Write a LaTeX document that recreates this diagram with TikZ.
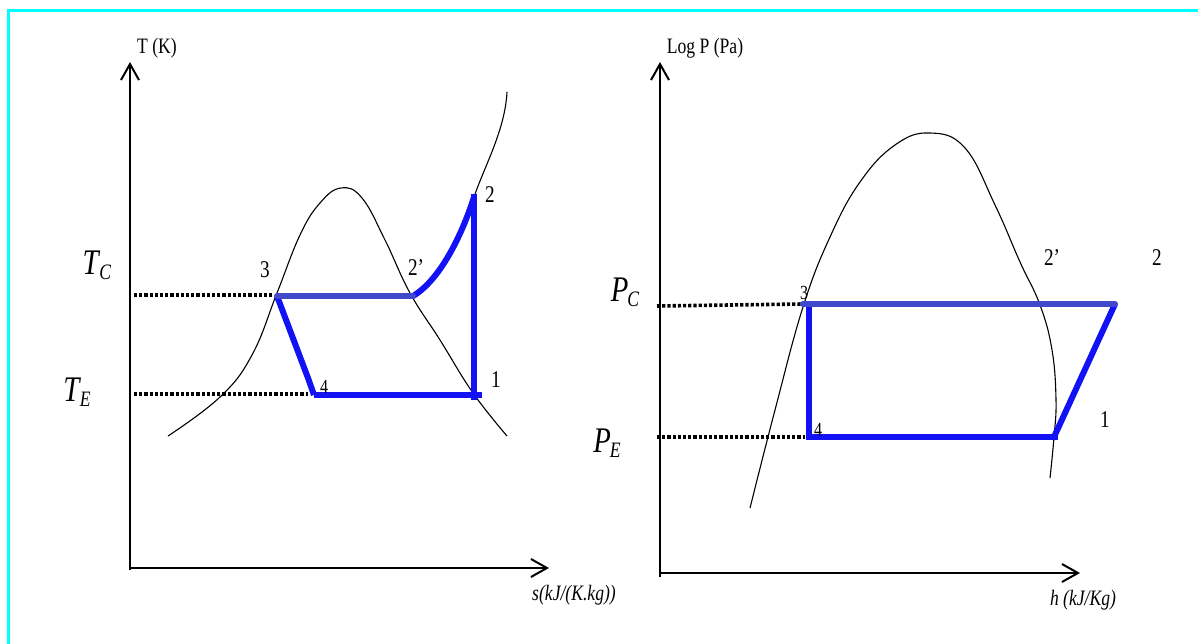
\documentclass[tikz,border=0pt]{standalone}
\usepackage{fontspec}
\setmainfont[FakeStretch=0.8]{Liberation Serif}
\usetikzlibrary{arrows.meta}
\definecolor{cycA}{RGB}{64,72,204}
\definecolor{cycB}{RGB}{18,18,245}
\definecolor{frameC}{RGB}{0,255,255}
\newcommand{\bigsub}[2]{\textit{#1}\kern-1pt\raisebox{-5pt}{\fontsize{22}{22}\selectfont\textit{#2}}}
\tikzset{
  axisline/.style={line width=2pt,-{Straight Barb[length=16pt,width=18pt,line width=2pt]}},
  dome/.style={line width=1.1pt,black},
  cycthick/.style={line width=6pt,cycB},
  cyctop/.style={line width=6pt,cycA},
  dotline/.style={line width=3.6pt,dash pattern=on 3.2pt off 2pt},
  axlab/.style={font=\fontsize{22}{24}\selectfont,inner sep=0pt},
  ptlab/.style={font=\fontsize{24}{26}\selectfont,inner sep=0pt},
  ptlabs/.style={font=\fontsize{20}{22}\selectfont,inner sep=0pt},
  biglab/.style={font=\fontsize{36}{38}\selectfont,inner sep=0pt},
}
\begin{document}
\begin{tikzpicture}[x=1pt,y=-1pt]
\useasboundingbox (0,0) rectangle (1198,644);
% frame
\draw[frameC,line width=3pt] (8,644) -- (8,10.5) -- (1198,10.5);

% ===== Left: T-s diagram =====
\coordinate (Lo) at (130,568);
\coordinate (Ltop) at (130,62);
\coordinate (Lright) at (549,568);
\draw[axisline] (130,570) -- (Ltop);
\draw[axisline] (Lo) -- (Lright);
\node[axlab] (lTK) at (157,48) {T (K)};
\node[axlab] (lsx) at (574,595) {\textit{s(kJ/(K.kg))}};

% saturation dome
\draw[dome] plot[smooth,tension=0.7] coordinates {
 (168,436) (220,397) (252,355) (277,293) (300,235) (320,203) (341,188)
 (362,198) (385,240) (410,293) (440,340) (473,393) (507,436)};
% superheated isobar above 2
\coordinate (L2) at (474,197);
\coordinate (Ltopcurve) at (507,92);
\draw[dome] (L2) .. controls (485,165) and (505,130) .. (Ltopcurve);

% cycle points
\coordinate (L3) at (277,296);
\coordinate (L2p) at (413,296);
\coordinate (L1) at (474,395);
\coordinate (L4) at (314,395);
\coordinate (L4k) at (308,378);
\coordinate (L1e) at (482,395);

% dotted guide lines
\coordinate (LTC) at (134,295);
\coordinate (LTE) at (134,394);
\draw[dotline] (LTC) -- (273,295);
\draw[dotline] (LTE) -- (308,394);

% cycle
\draw[cycthick,line cap=round] (L2p) .. controls (440,280) and (462,235) .. (L2);
\draw[cycthick] (474,194) -- (474,400);
\draw[cycthick] (L4) -- (L1e);
\draw[cycthick,line join=round] (L3) -- (L4k) -- (L4);
\draw[cyctop,line cap=round] (L3) -- (L2p);

\node[biglab] (lTC) at (97,265) {\bigsub{T}{C}};
\node[biglab] (lTE) at (77,392) {\bigsub{T}{E}};
\node[ptlab] (l3) at (265,270) {3};
\node[ptlab] (l2p) at (416,268) {2’};
\node[ptlab] (l2) at (490,195) {2};
\node[ptlab] (l1) at (496,380) {1};
\node[ptlabs] (l4) at (324,387) {4};

% ===== Right: log P - h diagram =====
\coordinate (Ro) at (660,573);
\coordinate (Rtop) at (660,62);
\coordinate (Rright) at (1080,573);
\draw[axisline] (660,577) -- (Rtop);
\draw[axisline] (Ro) -- (Rright);
\node[axlab] (rLP) at (705,48) {Log P (Pa)};
\node[axlab] (rhx) at (1083,600) {\textit{h (kJ/Kg)}};

\draw[dome] plot[smooth,tension=0.7] coordinates {
 (750,508) (775,410) (803,307) (830,237) (860,182) (895,145) (930,133)
 (965,148) (995,205) (1020,262) (1040,305) (1052,350) (1056,400) (1054,437) (1050,478)};

\coordinate (R3) at (803,304);
\coordinate (R3v) at (809,301);
\coordinate (R4) at (809,437);
\coordinate (R2) at (1115,304);
\coordinate (R1) at (1054,437);
\coordinate (R1e) at (1058,437);

\draw[dotline] (657,306) -- (R3);
\draw[dotline] (657,437) -- (805,437);

\draw[cycthick] (R3v) -- (R4);
\draw[cycthick] (806,437) -- (R1e);
\draw[cycthick] (R1) -- (R2);
\draw[cyctop,line cap=round] (R3) -- (R2);

\node[biglab] (rPC) at (625,292) {\bigsub{P}{C}};
\node[biglab] (rPE) at (607,443) {\bigsub{P}{E}};
\node[ptlabs] (r3) at (804,293) {3};
\node[ptlabs] (r4) at (818,430) {4};
\node[ptlab] (r2p) at (1052,258) {2’};
\node[ptlab] (r2) at (1157,258) {2};
\node[ptlab] (r1) at (1105,420) {1};
\end{tikzpicture}
\end{document}
